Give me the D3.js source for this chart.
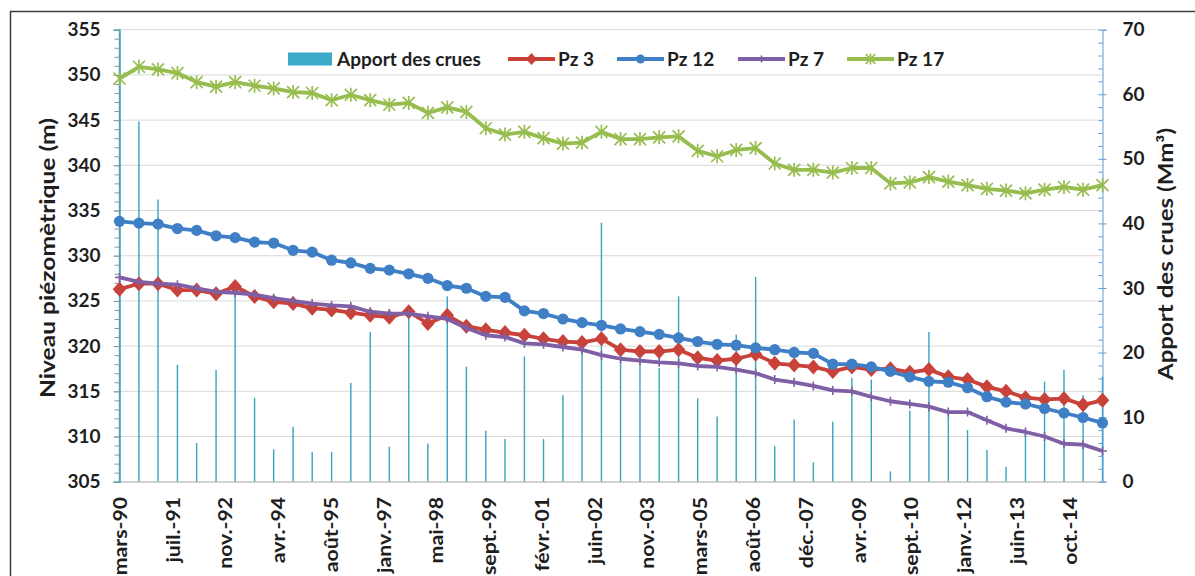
<!DOCTYPE html>
<html>
<head>
<meta charset="utf-8">
<script src="https://cdn.jsdelivr.net/npm/d3@7"></script>
<style>
    body { margin: 0; background: #fff; }
    text { font-family: Lato, "Open Sans", sans-serif; font-weight: bold; fill: #1e1e1e; }
</style>
</head>
<body>
<script>
// semi-annual measurements, march and september
var dates = ["1990-03", "1990-09", "1991-03", "1991-09", "1992-03", "1992-09", "1993-03", "1993-09",
    "1994-03", "1994-09", "1995-03", "1995-09", "1996-03", "1996-09", "1997-03", "1997-09",
    "1998-03", "1998-09", "1999-03", "1999-09", "2000-03", "2000-09", "2001-03", "2001-09",
    "2002-03", "2002-09", "2003-03", "2003-09", "2004-03", "2004-09", "2005-03", "2005-09",
    "2006-03", "2006-09", "2007-03", "2007-09", "2008-03", "2008-09", "2009-03", "2009-09",
    "2010-03", "2010-09", "2011-03", "2011-09", "2012-03", "2012-09", "2013-03", "2013-09",
    "2014-03", "2014-09", "2015-03", "2015-09"];

var apport = [70, 55.8, 43.7, 18.1, 6.0, 17.3, 29.7, 13.0, 5.0, 8.5, 4.6, 4.6, 15.3, 23.2, 5.4,
    26.6, 5.9, 28.7, 17.8, 7.9, 6.6, 19.4, 6.6, 13.4, 22.5, 40.1, 19.1, 18.8, 17.6, 28.7, 12.9,
    10.1, 22.8, 31.7, 5.5, 9.6, 3.0, 9.3, 16.1, 15.8, 1.6, 11.0, 23.2, 11.0, 8.0, 4.9, 2.3, 7.5,
    15.5, 17.3, 13.4, 16.3];

var pz3 = [326.3, 326.9, 326.9, 326.2, 326.2, 325.8, 326.6, 325.5, 324.9, 324.7, 324.2, 324.0, 323.7, 323.4, 323.2,
    323.8, 322.5, 323.4, 322.2, 321.8, 321.5, 321.2, 320.8, 320.5, 320.4, 320.8, 319.6, 319.4, 319.4, 319.6, 318.7,
    318.4, 318.6, 319.1, 318.1, 317.9, 317.7, 317.2, 317.7, 317.4, 317.5, 317.1, 317.4, 316.6, 316.3, 315.5, 315.0, 314.3,
    314.1, 314.2, 313.5, 314.0];

var pz12 = [333.8, 333.6, 333.5, 333.0, 332.8, 332.2, 332.0, 331.5, 331.4, 330.6, 330.4, 329.5, 329.2, 328.6, 328.4,
    328.0, 327.5, 326.7, 326.4, 325.5, 325.4, 323.9, 323.6, 323.0, 322.6, 322.3, 321.9, 321.6, 321.3, 320.9, 320.5,
    320.2, 320.1, 319.8, 319.6, 319.3, 319.2, 318.0, 318.0, 317.7, 317.2, 316.6, 316.1, 316.0, 315.4, 314.4, 313.8, 313.6,
    313.1, 312.6, 312.1, 311.5];

var pz7 = [327.6, 327.1, 326.9, 326.8, 326.4, 326.0, 325.9, 325.7, 325.3, 325.0, 324.7, 324.5, 324.4, 323.8, 323.6,
    323.6, 323.3, 323.0, 322.0, 321.2, 321.0, 320.3, 320.2, 319.9, 319.6, 319.0, 318.6, 318.4, 318.2, 318.1, 317.8,
    317.7, 317.4, 317.0, 316.3, 316.0, 315.6, 315.1, 315.0, 314.4, 313.9, 313.6, 313.3, 312.7, 312.7, 311.8, 310.9, 310.5,
    310.0, 309.2, 309.1, 308.4];

var pz17 = [349.6, 350.9, 350.6, 350.2, 349.2, 348.7, 349.2, 348.8, 348.5, 348.1, 348.0, 347.2, 347.8, 347.2, 346.7,
    346.9, 345.8, 346.4, 345.9, 344.1, 343.4, 343.7, 343.0, 342.4, 342.5, 343.7, 342.9, 342.9, 343.1, 343.2, 341.6,
    341.0, 341.7, 341.9, 340.2, 339.5, 339.5, 339.2, 339.7, 339.7, 338.0, 338.1, 338.7, 338.2, 337.8, 337.4, 337.2, 336.9,
    337.3, 337.6, 337.3, 337.8];

// date axis labels, one every 500 days from the first date
var tickLabels = ["mars-90", "juil.-91", "nov.-92", "avr.-94", "août-95", "janv.-97", "mai-98", "sept.-99",
    "févr.-01", "juin-02", "nov.-03", "mars-05", "août-06", "déc.-07", "avr.-09", "sept.-10",
    "janv.-12", "juin-13", "oct.-14"];

var leftTicks = [305, 310, 315, 320, 325, 330, 335, 340, 345, 350, 355];
var rightTicks = [0, 10, 20, 30, 40, 50, 60, 70];

var seriesNames = ["Pz 3", "Pz 12", "Pz 7", "Pz 17"];
var barName = "Apport des crues";

var W = 1195, H = 576;
var plot = { left: 119.5, right: 1102.5, top: 29.7, bottom: 481.7 };

var parse = d3.timeParse("%Y-%m");
var when = dates.map(parse);
var tickDates = tickLabels.map(function (l, i) { return d3.timeDay.offset(when[0], 500 * i); });

var x = d3.scaleTime().domain([when[0], when[when.length - 1]]).range([plot.left, plot.right]);
var yL = d3.scaleLinear().domain([305, 355]).range([plot.bottom, plot.top]);
var yR = d3.scaleLinear().domain([0, 70]).range([plot.bottom, plot.top]);

var series = [
    { name: seriesNames[0], values: pz3, color: "#c9423a", marker: "diamond" },
    { name: seriesNames[1], values: pz12, color: "#3f7fc6", marker: "circle" },
    { name: seriesNames[2], values: pz7, color: "#7f5fa5", marker: "plus" },
    { name: seriesNames[3], values: pz17, color: "#97bd4f", marker: "star" }
];
var barColor = "#35a5be";

var svg = d3.select("body").append("svg")
    .attr("width", W)
    .attr("height", H);

svg.append("rect").attr("width", W).attr("height", H).attr("fill", "#fff");

// chart frame
svg.append("rect")
    .attr("x", 10.5).attr("y", 11.5)
    .attr("width", 1200).attr("height", 620)
    .attr("fill", "none")
    .attr("stroke", "#3c3c3c")
    .attr("stroke-width", 1.5);

// gridlines
svg.append("g").selectAll("line")
    .data(leftTicks)
    .enter().append("line")
    .attr("x1", plot.left).attr("x2", plot.right)
    .attr("y1", function (d) { return yL(d); })
    .attr("y2", function (d) { return yL(d); })
    .attr("stroke", "#d9d9d9")
    .attr("stroke-width", 1);

// flood inflows as thin columns
svg.append("g").selectAll("rect")
    .data(apport)
    .enter().append("rect")
    .attr("x", function (d, i) { return x(when[i]) - 0.7; })
    .attr("width", 1.4)
    .attr("y", function (d) { return yR(d); })
    .attr("height", function (d) { return yR(0) - yR(d); })
    .attr("fill", barColor);

// bottom axis
var xAxis = svg.append("g")
    .attr("transform", "translate(0," + plot.bottom + ")")
    .call(d3.axisBottom(x).tickValues(tickDates).tickSize(0)
        .tickFormat(function (d, i) { return tickLabels[i]; }));
xAxis.select(".domain").attr("stroke", "#bfbfbf");
xAxis.selectAll("text")
    .attr("transform", "rotate(-90) scale(1.12,1)")
    .attr("text-anchor", "end")
    .attr("x", -13.5)
    .attr("y", 0)
    .attr("dy", "0.36em")
    .style("font-size", "19px");

// left axis
var yAxisMinor = svg.append("g")
    .attr("transform", "translate(" + plot.left + ",0)")
    .call(d3.axisLeft(yL).tickValues(d3.range(305, 356, 1)).tickSize(5).tickFormat(""));
yAxisMinor.select(".domain").remove();
yAxisMinor.selectAll("line").attr("stroke", "#8a9aa6");

var yAxis = svg.append("g")
    .attr("transform", "translate(" + plot.left + ",0)")
    .call(d3.axisLeft(yL).tickValues(leftTicks).tickSize(6).tickPadding(13).tickFormat(d3.format("d")));
yAxis.select(".domain").attr("stroke", "#4ba3bb").attr("stroke-width", 1.5);
yAxis.selectAll("line").attr("stroke", "#8a9aa6");
yAxis.selectAll("text").style("font-size", "19px");

// right axis
var rAxisMinor = svg.append("g")
    .attr("transform", "translate(" + plot.right + ",0)")
    .call(d3.axisLeft(yR).tickValues(d3.range(0, 71, 2)).tickSize(4).tickFormat(""));
rAxisMinor.select(".domain").remove();
rAxisMinor.selectAll("line").attr("stroke", "#5b9bd5");

var rAxis = svg.append("g")
    .attr("transform", "translate(" + plot.right + ",0)")
    .call(d3.axisRight(yR).tickValues(rightTicks).tickSize(4).tickPadding(16));
rAxis.select(".domain").attr("stroke", "#5b9bd5").attr("stroke-width", 1);
rAxis.selectAll("line").attr("stroke", "#5b9bd5");
rAxis.selectAll("text").style("font-size", "19px");

// marker shapes
function drawMarker(sel, type, color, s) {
    s = s || 1;
    if (type == "diamond") {
        sel.append("path")
            .attr("d", "M0," + (-7.5 * s) + "L" + (6.8 * s) + ",0L0," + (7.5 * s) + "L" + (-6.8 * s) + ",0Z")
            .attr("fill", color);
    } else if (type == "circle") {
        sel.append("circle").attr("r", 5.6 * s).attr("fill", color);
    } else if (type == "plus") {
        sel.append("path")
            .attr("d", "M0," + (-4.5 * s) + "V" + (4.5 * s) + "M" + (-4.5 * s) + ",0H" + (4.5 * s))
            .attr("stroke", color).attr("stroke-width", 1.6).attr("fill", "none");
    } else if (type == "star") {
        var a = 6 * s, b = 7 * s;
        sel.append("path")
            .attr("d", "M0," + (-b) + "V" + b + "M" + (-a) + "," + (-a) + "L" + a + "," + a + "M" + (-a) + "," + a + "L" + a + "," + (-a))
            .attr("stroke", color).attr("stroke-width", 1.7).attr("fill", "none");
    }
}

var line = d3.line()
    .x(function (d) { return x(d.date); })
    .y(function (d) { return yL(d.v); });

series.forEach(function (s) {
    var pts = s.values.map(function (v, i) { return { date: when[i], v: v }; });
    var g = svg.append("g");
    g.append("path")
        .datum(pts)
        .attr("d", line)
        .attr("fill", "none")
        .attr("stroke", s.color)
        .attr("stroke-width", 3.8)
        .attr("stroke-linejoin", "round");
    g.selectAll(".mk")
        .data(pts)
        .enter().append("g")
        .attr("class", "mk")
        .attr("transform", function (d) { return "translate(" + x(d.date) + "," + yL(d.v) + ")"; })
        .each(function () { drawMarker(d3.select(this), s.marker, s.color); });
});

// axis titles
svg.append("text")
    .attr("transform", "translate(48,258) rotate(-90)")
    .attr("text-anchor", "middle")
    .attr("dy", "0.35em")
    .attr("textLength", 280)
    .attr("lengthAdjust", "spacingAndGlyphs")
    .style("font-size", "21px")
    .text("Niveau piézomètrique (m)");

svg.append("text")
    .attr("transform", "translate(1166,254) rotate(-90)")
    .attr("text-anchor", "middle")
    .attr("dy", "0.35em")
    .attr("textLength", 252)
    .attr("lengthAdjust", "spacingAndGlyphs")
    .style("font-size", "21px")
    .text("Apport des crues (Mm³)");

// legend
var legY = 59;
var legend = svg.append("g");
legend.append("rect")
    .attr("x", 288).attr("y", legY - 6.5)
    .attr("width", 44).attr("height", 13)
    .attr("fill", "#3aaac8");
legend.append("text")
    .attr("x", 337).attr("y", legY).attr("dy", "0.35em")
    .style("font-size", "19px")
    .text(barName);

var legX = [508, 617, 738, 847];
series.forEach(function (s, i) {
    var lg = legend.append("g").attr("transform", "translate(" + legX[i] + "," + legY + ")");
    lg.append("line")
        .attr("x1", 0).attr("x2", 47)
        .attr("stroke", s.color).attr("stroke-width", 3.8);
    var m = lg.append("g").attr("transform", "translate(23.5,0)");
    drawMarker(m, s.marker, s.color, 0.8);
    lg.append("text")
        .attr("x", 50).attr("dy", "0.35em")
        .style("font-size", "19px")
        .text(s.name);
});
</script>
</body>
</html>
